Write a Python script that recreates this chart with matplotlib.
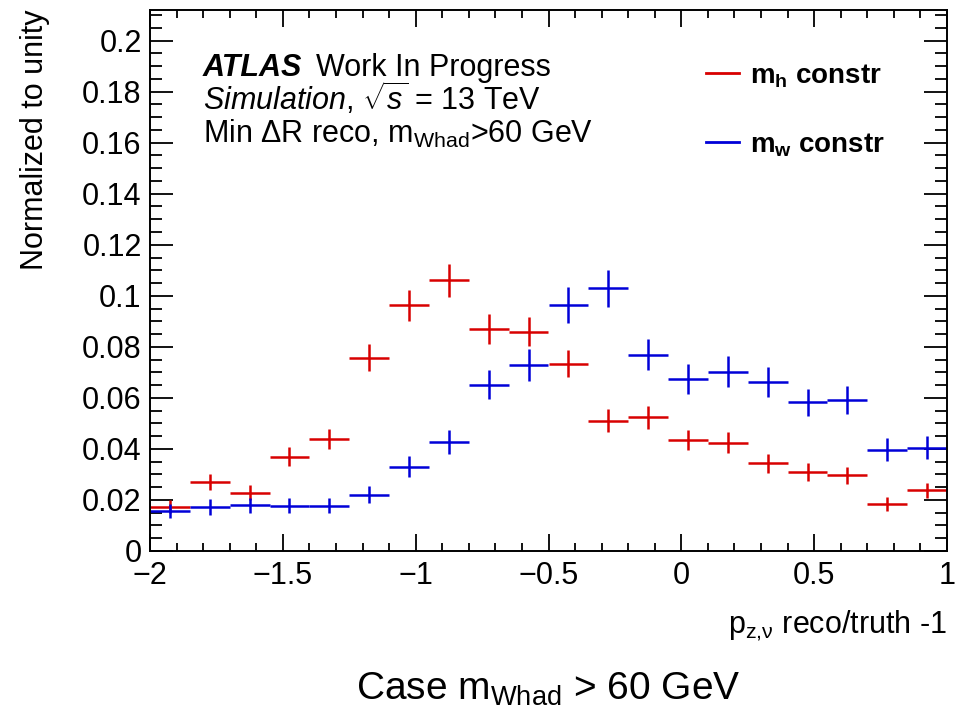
import numpy as np
import matplotlib
matplotlib.use('Agg')
import matplotlib.pyplot as plt
from matplotlib.lines import Line2D
from matplotlib.ticker import MultipleLocator, FixedLocator

plt.rcParams['font.family'] = ['Liberation Sans', 'DejaVu Sans']
plt.rcParams['mathtext.fontset'] = 'custom'
plt.rcParams['mathtext.rm'] = 'Liberation Sans'
plt.rcParams['mathtext.it'] = 'Liberation Sans:italic'
plt.rcParams['mathtext.bf'] = 'Liberation Sans:bold'

# binning of p_z,nu reco/truth - 1
bin_edges = np.linspace(-2, 1, 21)
bin_centers = 0.5 * (bin_edges[:-1] + bin_edges[1:])
half_width = 0.5 * (bin_edges[1] - bin_edges[0])

# m_h constrained
mh_vals = [0.0174, 0.0271, 0.0229, 0.0370, 0.0439, 0.0758, 0.0963, 0.1061, 0.0871, 0.0860,
           0.0733, 0.0511, 0.0524, 0.0435, 0.0424, 0.0344, 0.0311, 0.0297, 0.0184, 0.0238]
mh_errs = [0.0026, 0.0032, 0.0030, 0.0038, 0.0041, 0.0054, 0.0061, 0.0064, 0.0058, 0.0058,
           0.0053, 0.0045, 0.0045, 0.0041, 0.0041, 0.0037, 0.0035, 0.0034, 0.0027, 0.0030]

# m_w constrained
mw_vals = [0.0157, 0.0173, 0.0179, 0.0178, 0.0178, 0.0220, 0.0331, 0.0427, 0.0652, 0.0729,
           0.0963, 0.1030, 0.0770, 0.0673, 0.0703, 0.0663, 0.0582, 0.0592, 0.0397, 0.0405]
mw_errs = [0.0028, 0.0030, 0.0030, 0.0030, 0.0030, 0.0033, 0.0041, 0.0046, 0.0057, 0.0061,
           0.0070, 0.0072, 0.0062, 0.0058, 0.0060, 0.0058, 0.0054, 0.0055, 0.0045, 0.0045]

x_ticks = [-2, -1.5, -1, -0.5, 0, 0.5, 1]
x_ticklabels = ['\u22122', '\u22121.5', '\u22121', '\u22120.5', '0', '0.5', '1']
y_ticks = [0, 0.02, 0.04, 0.06, 0.08, 0.1, 0.12, 0.14, 0.16, 0.18, 0.2]
y_ticklabels = ['0', '0.02', '0.04', '0.06', '0.08', '0.1', '0.12', '0.14', '0.16', '0.18', '0.2']

red = '#d80000'
blue = '#0000d8'

W, H = 965, 713
fig = plt.figure(figsize=(W / 100, H / 100), dpi=100)
ax = fig.add_axes([150 / W, 1 - 551 / H, (947 - 150) / W, (551 - 10) / H])

ax.errorbar(bin_centers, mh_vals, yerr=mh_errs, xerr=half_width, fmt='none',
            ecolor=red, elinewidth=1.8, capsize=0)
ax.errorbar(bin_centers, mw_vals, yerr=mw_errs, xerr=half_width, fmt='none',
            ecolor=blue, elinewidth=1.8, capsize=0)

ax.set_xlim(-2, 1)
ax.set_ylim(0, 0.212)
ax.xaxis.set_major_locator(FixedLocator(x_ticks))
ax.xaxis.set_minor_locator(MultipleLocator(0.1))
ax.yaxis.set_major_locator(FixedLocator(y_ticks))
ax.yaxis.set_minor_locator(MultipleLocator(0.005))
ax.set_xticklabels(x_ticklabels)
ax.set_yticklabels(y_ticklabels)

ax.tick_params(which='both', direction='in', top=True, right=True, labelsize=22, width=1.3)
ax.tick_params(axis='y', which='major', length=16.5, pad=6)
ax.tick_params(axis='y', which='minor', length=8.5)
ax.tick_params(axis='x', which='major', length=12, pad=7)
ax.tick_params(axis='x', which='minor', length=6)
for s in ax.spines.values():
    s.set_linewidth(1.4)

# labels
fig.text(35 / W, 1 - 10 / H, 'Normalized to unity', rotation=90, ha='center', va='top', fontsize=22)
fig.text(947 / W, 1 - 633 / H, r'$\mathrm{p}_{\mathrm{z{,}\nu}}$ reco/truth -1',
         ha='right', va='baseline', fontsize=22)
fig.text(548 / W, 1 - 700 / H, r'Case $\mathrm{m}_{\mathrm{Whad}}$ > 60 GeV',
         ha='center', va='baseline', fontsize=28)

# ATLAS label
fig.text(203 / W, 1 - 76 / H, 'ATLAS', fontsize=22, fontweight='bold', style='italic', va='baseline')
fig.text(316 / W, 1 - 76 / H, 'Work In Progress', fontsize=22, va='baseline')
fig.text(203 / W, 1 - 110 / H, r'$\mathit{Simulation}$, $\sqrt{s}$ = 13 TeV', fontsize=22, va='baseline')
fig.text(203 / W, 1 - 143 / H, r'Min ΔR reco, $\mathrm{m}_{\mathrm{Whad}}$>60 GeV', fontsize=22, va='baseline')

handles = [Line2D([], [], color=red, lw=2),
           Line2D([], [], color=blue, lw=2)]
labels = [r'$\mathbf{m}_{\mathbf{h}}$ constr', r'$\mathbf{m}_{\mathbf{w}}$ constr']
leg = fig.legend(handles, labels, loc='upper left', bbox_to_anchor=(706 / W, 1 - 62 / H),
                 frameon=False, handlelength=1.2, handletextpad=0.4, labelspacing=1.5,
                 prop={'size': 20, 'weight': 'bold'}, borderaxespad=0, borderpad=0)

fig.savefig('out.png', dpi=100)
